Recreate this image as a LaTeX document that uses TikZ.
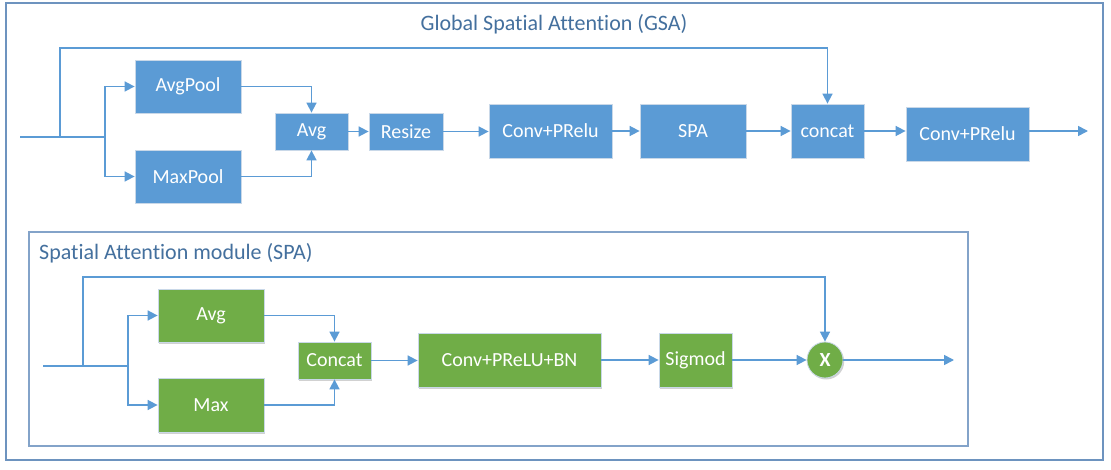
\documentclass[tikz,border=0pt]{standalone}
\usepackage{fontspec}
\setmainfont{Carlito}[Ligatures=NoCommon]
\usetikzlibrary{arrows.meta,shadows}
\definecolor{boxblue}{HTML}{5B9BD5}
\definecolor{boxgreen}{HTML}{70AD47}
\definecolor{linblue}{HTML}{5B9BD5}
\definecolor{frameblue}{HTML}{6D93BF}
\definecolor{titleblue}{HTML}{44709E}
\definecolor{boxedge}{HTML}{C9D8E8}
\begin{document}
\begin{tikzpicture}[x=1pt,y=-1pt,
  basebox/.style={draw=boxedge, line width=0.8pt, text=white, inner sep=0pt,
    font=\fontsize{20}{24}\selectfont,
    drop shadow={shadow xshift=1.2pt, shadow yshift=-1.5pt, opacity=0.18, fill=black}},
  bbox/.style={basebox, fill=boxblue},
  gbox/.style={basebox, fill=boxgreen},
  wire/.style={draw=linblue, line width=1.6pt},
  conn/.style={wire, -{Triangle[length=10pt,width=10pt]}},
  frame/.style={draw=frameblue, line width=1.3pt},
  ttl/.style={text=titleblue, inner sep=0pt, font=\fontsize{22}{26}\selectfont}]
\useasboundingbox (0,0) rectangle (1111,470);
\fill[white] (0,0) rectangle (1111,470);

% frames
\draw[frame] (6,3) rectangle (1103,460);
\draw[frame, draw=frameblue!85] (29,232) rectangle (968,446);

% titles
\node[ttl] (gsatitle) at (554,24) {Global Spatial Attention (GSA)};
\node[ttl, anchor=west] (spatitle) at (39,253) {Spatial Attention module (SPA)};

% GSA nodes
\node[bbox, minimum width=106, minimum height=53] (avgpool) at (188,86.5) {AvgPool};
\node[bbox, minimum width=106, minimum height=53] (maxpool) at (188,176.5) {MaxPool};
\node[bbox, minimum width=73, minimum height=37] (avg) at (311.5,131.5) {Avg};
\node[bbox, minimum width=74, minimum height=37] (resize) at (406,131.5) {Resize};
\node[bbox, minimum width=123, minimum height=54] (conv1) at (550.5,131) {Conv+PRelu};
\node[bbox, minimum width=106, minimum height=54] (spa) at (693,131) {SPA};
\node[bbox, minimum width=73, minimum height=54] (concat) at (827.5,131) {concat};
\node[bbox, minimum width=123, minimum height=54] (conv2) at (967.5,134) {Conv+PRelu};

\coordinate (in1) at (20,137);
\coordinate (spl1) at (60,137);
\coordinate (br1) at (105,137);
\coordinate (top1) at (60,48);
\coordinate (out1) at (1088,131);

\draw[wire] (in1) -- (br1);
\draw[conn] (spl1) -- (top1) -| (concat.north);
\draw[conn] (br1) |- (avgpool.west);
\draw[conn] (br1) |- (maxpool.west);
\draw[conn] (avgpool.east) -| (avg.north);
\draw[conn] (maxpool.east) -| (avg.south);
\draw[conn] (avg.east) -- (resize.west);
\draw[conn] (resize.east) -- (resize.east -| conv1.west);
\draw[conn] (conv1.east) -- (spa.west);
\draw[conn] (spa.east) -- (concat.west);
\draw[conn] (concat.east) -- (concat.east -| conv2.west);
\draw[conn] (conv2.east |- out1) -- (out1);

% SPA nodes
\node[gbox, minimum width=106, minimum height=53] (gavg) at (211,315.5) {Avg};
\node[gbox, minimum width=106, minimum height=54] (gmax) at (211,405) {Max};
\node[gbox, minimum width=73, minimum height=37] (gcat) at (334.5,360.5) {Concat};
\node[gbox, minimum width=183, minimum height=54] (gconv) at (509.5,360) {Conv+PReLU+BN};
\node[gbox, minimum width=73, minimum height=54] (gsig) at (695.5,360) {Sigmod};
\node[gbox, circle, minimum size=36] (mult) at (825,360) {\bfseries X};

\coordinate (in2) at (43,366);
\coordinate (spl2) at (83,366);
\coordinate (br2) at (128,366);
\coordinate (top2) at (83,277);
\coordinate (out2) at (954,360);

\draw[wire] (in2) -- (br2);
\draw[conn] (spl2) -- (top2) -| (mult.north);
\draw[conn] (br2) |- (gavg.west);
\draw[conn] (br2) |- (gmax.west);
\draw[conn] (gavg.east) -| (gcat.north);
\draw[conn] (gmax.east) -| (gcat.south);
\draw[conn] (gcat.east) -- (gcat.east -| gconv.west);
\draw[conn] (gconv.east) -- (gsig.west);
\draw[conn] (gsig.east) -- (mult.west);
\draw[conn] (mult.east) -- (out2);
\end{tikzpicture}
\end{document}
